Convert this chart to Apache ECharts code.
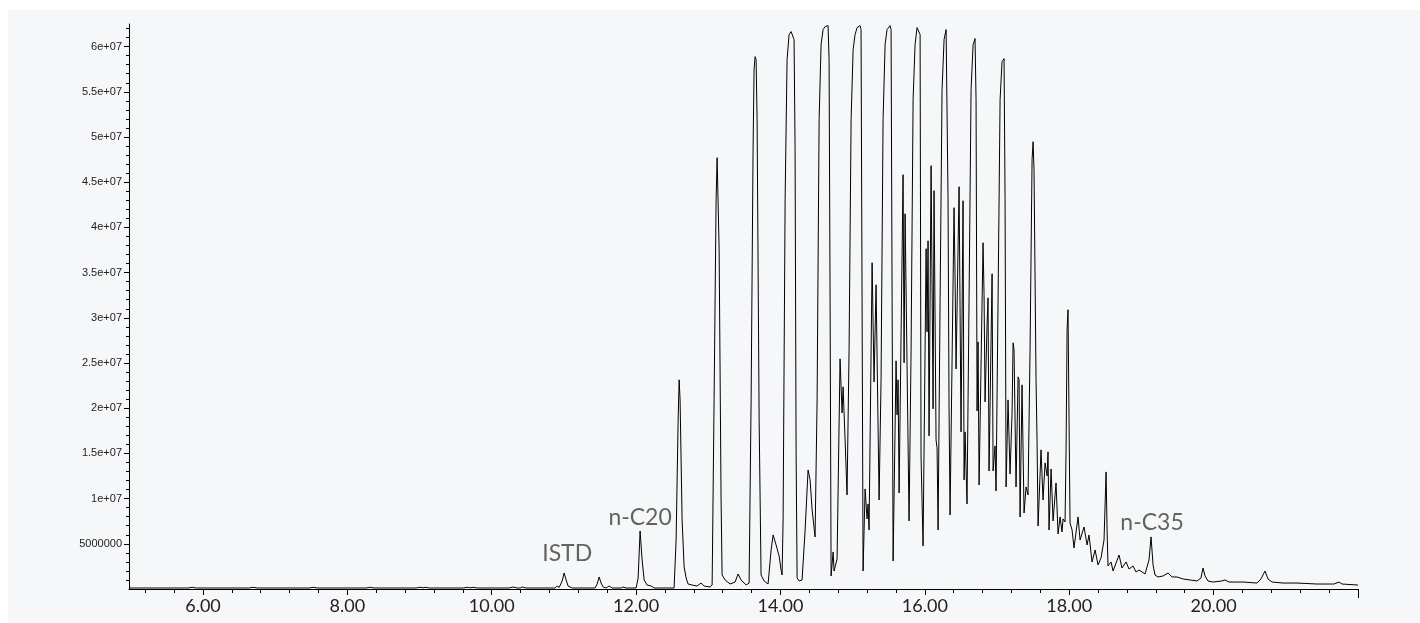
<!DOCTYPE html>
<html>

<head>
    <meta http-equiv="Content-Type" content="text/html; charset=UTF-8">
    <title>TIC chromatogram</title>
    <style type="text/css">
        * {
            margin: 0;
            padding: 0;
        }

        html,
        body {
            width: 100%;
            height: 100%;
            background: #ffffff;
        }

        .panel {
            position: absolute;
            left: 8px;
            top: 10px;
            right: 0;
            bottom: 0;
            background: #f6f7f9;
        }

        .container {
            position: absolute;
            left: 0;
            top: 0;
            width: 1420px;
            height: 623px;
        }
    </style>
</head>

<body>
    <div class="panel"></div>
    <div class="container" id="container"></div>
    <script src="https://cdn.jsdelivr.net/npm/echarts@6/dist/echarts.min.js"></script>
    <script>
        // retention time (min), abundance (x 1e6 counts)
        const chromatogram = [
            [4.978, 0.11], [5.795, 0.11], [5.850, 0.19], [5.906, 0.11],
            [6.640, 0.11], [6.695, 0.19], [6.751, 0.11],
            [7.471, 0.11], [7.526, 0.19], [7.582, 0.11],
            [8.260, 0.11], [8.316, 0.19], [8.371, 0.11],
            [8.953, 0.11], [9.008, 0.19], [9.050, 0.13], [9.078, 0.19], [9.133, 0.11],
            [9.604, 0.11], [9.659, 0.19], [9.701, 0.13], [9.742, 0.19], [9.798, 0.11],
            [10.241, 0.11], [10.296, 0.22], [10.352, 0.11], [10.393, 0.11], [10.421, 0.22], [10.476, 0.11],
            [10.878, 0.11], [10.906, 0.33], [10.934, 0.17], [10.975, 0.89], [11.003, 1.77],
            [11.030, 1.00], [11.058, 0.33], [11.114, 0.11],
            [11.432, 0.11], [11.460, 0.55], [11.488, 1.33], [11.515, 0.66], [11.543, 0.22],
            [11.584, 0.11], [11.626, 0.33], [11.668, 0.11], [11.792, 0.11], [11.820, 0.22], [11.861, 0.11],
            [12.000, 0.11], [12.028, 1.22], [12.055, 6.42], [12.083, 3.21], [12.111, 1.00],
            [12.152, 0.44], [12.208, 0.33], [12.249, 0.11],
            [12.526, 0.11], [12.554, 5.42], [12.582, 18.71], [12.596, 23.14], [12.609, 20.92],
            [12.637, 7.64], [12.665, 2.44], [12.693, 1.22], [12.720, 0.55], [12.776, 0.44],
            [12.845, 0.33], [12.900, 0.66], [12.942, 0.33], [13.025, 0.22], [13.053, 0.44],
            [13.080, 20.92], [13.108, 43.06], [13.122, 47.71], [13.136, 47.49], [13.150, 37.53],
            [13.177, 9.85], [13.191, 1.55], [13.233, 1.00], [13.302, 0.55], [13.371, 0.77],
            [13.413, 1.66], [13.454, 1.00], [13.524, 0.44], [13.565, 0.66],
            [13.593, 20.92], [13.620, 48.60], [13.634, 57.45], [13.648, 58.89], [13.662, 58.56],
            [13.676, 51.92], [13.704, 18.71], [13.731, 1.55], [13.773, 0.89], [13.828, 0.55],
            [13.870, 4.32], [13.898, 5.98], [13.939, 4.87], [13.981, 3.65], [14.008, 2.10], [14.022, 1.55],
            [14.036, 7.64], [14.064, 43.06], [14.091, 58.56], [14.119, 61.33], [14.147, 61.66],
            [14.174, 61.66], [14.188, 60.77], [14.202, 48.60], [14.216, 15.39], [14.230, 1.22],
            [14.258, 0.89], [14.299, 1.00], [14.341, 6.53], [14.382, 13.17], [14.410, 12.07],
            [14.438, 8.75], [14.479, 5.76],
            [14.507, 20.92], [14.535, 51.92], [14.562, 60.22], [14.590, 61.88], [14.618, 62.21],
            [14.659, 62.32], [14.673, 58.56], [14.687, 31.99], [14.701, 1.44],
            [14.729, 4.10], [14.742, 1.99], [14.784, 3.32], [14.825, 25.46], [14.853, 19.48],
            [14.867, 22.36], [14.895, 16.49], [14.922, 10.41],
            [14.950, 26.46], [14.978, 51.92], [15.006, 59.67], [15.033, 61.33], [15.061, 62.10],
            [15.102, 62.32], [15.116, 61.88], [15.130, 31.99], [15.144, 1.99],
            [15.172, 11.07], [15.199, 7.75], [15.213, 9.41], [15.227, 6.53], [15.269, 36.09],
            [15.296, 22.91], [15.324, 33.65], [15.366, 9.85],
            [15.393, 23.14], [15.421, 51.92], [15.449, 60.22], [15.476, 61.88], [15.518, 62.32],
            [15.532, 61.88], [15.546, 31.99], [15.560, 3.10],
            [15.601, 25.24], [15.615, 19.26], [15.629, 23.14], [15.643, 10.63], [15.698, 45.83],
            [15.712, 25.02], [15.726, 41.51], [15.781, 7.53],
            [15.809, 26.46], [15.837, 54.13], [15.864, 60.22], [15.892, 62.10], [15.906, 62.32],
            [15.934, 61.33], [15.947, 14.72], [15.975, 4.76],
            [16.017, 37.64], [16.030, 28.45], [16.044, 38.52], [16.058, 16.94], [16.086, 46.83],
            [16.114, 19.93], [16.127, 44.06], [16.155, 16.49], [16.169, 15.61], [16.183, 6.53],
            [16.211, 31.99], [16.238, 55.24], [16.266, 60.77], [16.294, 61.88], [16.308, 61.99],
            [16.321, 43.06], [16.335, 19.93], [16.349, 8.19],
            [16.404, 42.18], [16.418, 34.87], [16.432, 24.35], [16.446, 24.35], [16.474, 44.50],
            [16.501, 17.38], [16.529, 42.95], [16.543, 12.07], [16.557, 17.38], [16.584, 9.41],
            [16.612, 31.99], [16.640, 55.24], [16.668, 60.22], [16.695, 60.89], [16.709, 54.13],
            [16.723, 19.70], [16.737, 27.34], [16.751, 11.51],
            [16.806, 38.30], [16.820, 32.44], [16.834, 20.70], [16.861, 29.11], [16.875, 32.21],
            [16.889, 13.06], [16.931, 34.87], [16.945, 13.06], [16.972, 15.83], [16.986, 10.85],
            [17.014, 31.99], [17.042, 54.13], [17.069, 58.34], [17.097, 58.67], [17.111, 43.06],
            [17.125, 11.29], [17.152, 20.92], [17.180, 12.73], [17.208, 19.48], [17.222, 27.23],
            [17.235, 26.46], [17.263, 11.29], [17.291, 23.47], [17.305, 23.14], [17.319, 7.97],
            [17.346, 22.58], [17.374, 8.41], [17.402, 11.29], [17.429, 10.41],
            [17.457, 26.46], [17.485, 47.49], [17.499, 49.48], [17.512, 46.38], [17.540, 23.14],
            [17.554, 16.38], [17.568, 6.97], [17.609, 15.39], [17.637, 9.85], [17.665, 13.95],
            [17.693, 12.51], [17.706, 15.17], [17.720, 6.53], [17.748, 13.28], [17.776, 7.53],
            [17.817, 11.73], [17.845, 6.09], [17.873, 7.97], [17.900, 6.31], [17.914, 7.75],
            [17.942, 7.42], [17.956, 15.39], [17.970, 28.67], [17.983, 30.89], [17.997, 18.71],
            [18.011, 7.31], [18.039, 6.53], [18.066, 4.54], [18.122, 7.97], [18.150, 5.42],
            [18.205, 6.86], [18.247, 4.87], [18.274, 5.98], [18.316, 2.99], [18.358, 4.32],
            [18.399, 2.66], [18.440, 3.43], [18.482, 5.42], [18.510, 12.95], [18.524, 6.53],
            [18.537, 2.55], [18.579, 2.99], [18.607, 1.99], [18.690, 3.76], [18.731, 2.32],
            [18.787, 2.99], [18.828, 2.21], [18.884, 2.55], [18.925, 1.88], [18.967, 2.10],
            [19.050, 1.66], [19.105, 3.21], [19.133, 5.76], [19.161, 2.66], [19.188, 1.55],
            [19.230, 1.33], [19.299, 1.44], [19.368, 1.77], [19.424, 1.33], [19.493, 1.33],
            [19.576, 1.11], [19.673, 1.00], [19.770, 0.89], [19.825, 1.22], [19.853, 2.32],
            [19.881, 1.44], [19.922, 0.89], [19.992, 0.77], [20.116, 0.89], [20.158, 1.00],
            [20.213, 0.77], [20.407, 0.77], [20.601, 0.66], [20.656, 1.11], [20.712, 1.99],
            [20.753, 1.11], [20.809, 0.77], [20.961, 0.66], [21.155, 0.66], [21.432, 0.55],
            [21.667, 0.55], [21.737, 0.77], [21.778, 0.55], [22.000, 0.44]
        ];

        // peak annotations: name, retention time, label height (x 1e6)
        const peakNames = ['ISTD', 'n-C20', 'n-C35'];
        const peakTimes = [11.045, 12.055, 19.147];
        const peakLabelHeights = [3.87, 7.86, 7.31];

        // axis ticks
        const xTickLabels = [6, 8, 10, 12, 14, 16, 18, 20];
        const yTickLabels = [5e6, 1e7, 1.5e7, 2e7, 2.5e7, 3e7, 3.5e7, 4e7, 4.5e7, 5e7, 5.5e7, 6e7];

        const X_MIN = 4.975;
        const X_MAX = 22;
        const Y_MAX = 6.25e7;

        const xMinorTicks = [];
        for (let k = 0; k <= 42; k++) {
            xMinorTicks.push(+(5.2 + 0.4 * k).toFixed(1));
        }
        const yMinorTicks = [];
        for (let k = 1; k <= 62; k++) {
            yMinorTicks.push(k * 1e6);
        }

        const formatY = (v) => {
            if (v >= 1e7) {
                return String(+(v / 1e7).toFixed(2)) + 'e+07';
            }
            return String(v);
        };

        const chart = echarts.init(document.getElementById('container'), null, { renderer: 'canvas' });

        const axisLineStyle = { color: '#000', width: 1 };

        chart.setOption({
            backgroundColor: 'transparent',
            animation: false,
            grid: {
                left: 129,
                right: 62,
                top: 24,
                bottom: 34
            },
            xAxis: [
                {
                    type: 'value',
                    min: X_MIN,
                    max: X_MAX,
                    axisLine: { show: true, onZero: false, lineStyle: axisLineStyle },
                    axisTick: { show: true, length: 6, customValues: xTickLabels, lineStyle: axisLineStyle },
                    axisLabel: {
                        customValues: xTickLabels,
                        formatter: (v) => v.toFixed(2),
                        fontFamily: 'Lato',
                        fontSize: 18,
                        color: '#222',
                        margin: 8
                    },
                    splitLine: { show: false }
                },
                {
                    type: 'value',
                    min: X_MIN,
                    max: X_MAX,
                    position: 'bottom',
                    axisLine: { show: false },
                    axisTick: { show: true, length: 4, customValues: xMinorTicks, lineStyle: axisLineStyle },
                    axisLabel: { show: false },
                    splitLine: { show: false }
                },
                {
                    type: 'value',
                    min: X_MIN,
                    max: X_MAX,
                    position: 'bottom',
                    axisLine: { show: false },
                    axisTick: { show: true, length: 9, customValues: [X_MAX], lineStyle: axisLineStyle },
                    axisLabel: { show: false },
                    splitLine: { show: false }
                }
            ],
            yAxis: [
                {
                    type: 'value',
                    min: 0,
                    max: Y_MAX,
                    axisLine: { show: true, onZero: false, lineStyle: axisLineStyle },
                    axisTick: { show: true, length: 5, customValues: yTickLabels, lineStyle: axisLineStyle },
                    axisLabel: {
                        customValues: yTickLabels,
                        formatter: formatY,
                        fontFamily: 'Liberation Sans',
                        fontSize: 11,
                        color: '#222',
                        margin: 7
                    },
                    splitLine: { show: false }
                },
                {
                    type: 'value',
                    min: 0,
                    max: Y_MAX,
                    position: 'left',
                    axisLine: { show: false },
                    axisTick: { show: true, length: 3, customValues: yMinorTicks, lineStyle: axisLineStyle },
                    axisLabel: { show: false },
                    splitLine: { show: false }
                }
            ],
            series: [
                {
                    name: 'TIC',
                    type: 'line',
                    xAxisIndex: 0,
                    yAxisIndex: 0,
                    showSymbol: false,
                    symbol: 'none',
                    lineStyle: { color: '#000', width: 1 },
                    data: chromatogram.map(p => [p[0], p[1] * 1e6])
                },
                {
                    name: 'peaks',
                    type: 'scatter',
                    xAxisIndex: 0,
                    yAxisIndex: 0,
                    symbolSize: 0,
                    silent: true,
                    label: {
                        show: true,
                        position: 'inside',
                        formatter: (p) => p.name,
                        fontFamily: 'Lato',
                        fontSize: 23,
                        color: '#3c3c3c'
                    },
                    data: peakNames.map((name, i) => ({
                        name: name,
                        value: [peakTimes[i], peakLabelHeights[i] * 1e6]
                    }))
                }
            ]
        });
    </script>
</body>

</html>
